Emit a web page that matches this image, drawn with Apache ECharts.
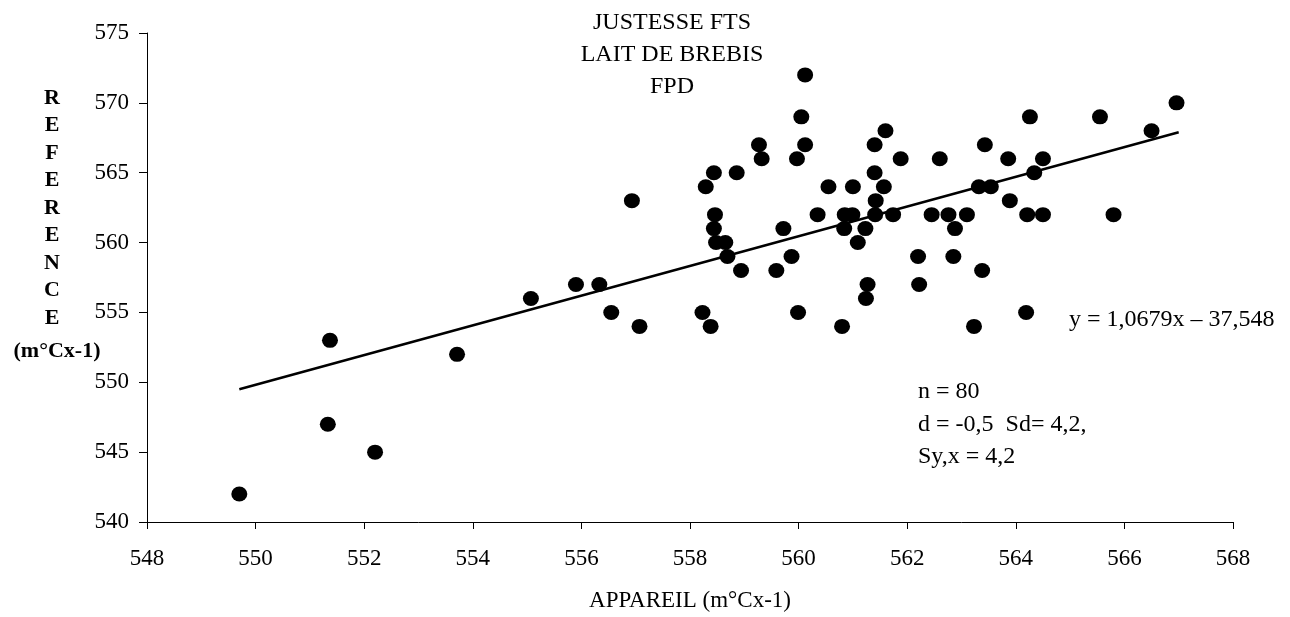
<!DOCTYPE html>
<html>
<head>
<meta charset="utf-8">
<script src="https://cdn.jsdelivr.net/npm/echarts@6/dist/echarts.min.js"></script>
<style>
  html, body { margin: 0; padding: 0; background: #fff; }
  #main { width: 1290px; height: 617px; }
</style>
</head>
<body>
<div id="main"></div>
<script>
// values (x = appareil, y = reference)
const appareil = [
  549.7, 551.33, 551.37, 552.2, 553.71, 555.07, 555.9, 556.33, 556.55, 557.07, 556.93,
  560.12, 560.05, 560.12, 559.27, 559.32, 559.97, 558.44, 558.86, 558.29, 560.55, 561.0,
  561.4, 561.6, 561.4, 561.57, 561.42, 561.41, 558.46, 560.35, 560.85, 560.99, 558.44,
  559.72, 560.84, 561.23, 558.48, 558.65, 561.09, 558.69, 559.87, 558.94, 559.59, 561.27,
  561.24, 558.23, 559.99, 558.38, 560.8,
  561.88, 562.6, 563.43, 563.86, 564.5, 564.26, 565.55, 566.96, 566.5, 563.32, 563.54,
  564.34, 563.89, 561.74, 562.45, 562.76, 563.1, 564.21, 564.5, 565.8, 562.88, 562.2,
  562.85, 563.38, 562.22, 564.19, 563.23
];
const reference = [
  542, 547, 553, 545, 552, 556, 557, 557, 555, 554, 563,
  572, 569, 567, 567, 566, 566, 565, 565, 564, 564, 564,
  567, 568, 565, 564, 563, 562, 562, 562, 562, 562, 561,
  561, 561, 561, 560, 560, 560, 559, 559, 558, 558, 557,
  556, 555, 555, 554, 554,
  566, 566, 567, 566, 566, 569, 569, 570, 568, 564, 564,
  565, 563, 562, 562, 562, 562, 562, 562, 562, 561, 559,
  559, 558, 557, 555, 554
];
// trend line y = 1,0679x - 37,548 drawn over the data range
const trendX = [549.7, 567.0];
const trendY = [549.5, 567.9];

const yNameLetters = ['R', 'E', 'F', 'E', 'R', 'E', 'N', 'C', 'E'];
const titleLines = ['JUSTESSE FTS', 'LAIT DE BREBIS', 'FPD'];
const statLines = ['n = 80', 'd = -0,5  Sd= 4,2,', 'Sy,x = 4,2'];
const equation = 'y = 1,0679x \u2013 37,548';

const serif = '"Liberation Serif", "Times New Roman", serif';
const chart = echarts.init(document.getElementById('main'));

const graphics = [];
titleLines.forEach((t, i) => {
  graphics.push({
    type: 'text', x: 672, y: 23 + i * 32,
    style: { text: t, font: '24px ' + serif, fill: '#000', align: 'center', verticalAlign: 'middle' }
  });
});
yNameLetters.forEach((t, i) => {
  graphics.push({
    type: 'text', x: 52, y: 98 + i * 27.5,
    style: { text: t, font: 'bold 22px ' + serif, fill: '#000', align: 'center', verticalAlign: 'middle' }
  });
});
graphics.push({
  type: 'text', x: 57, y: 351,
  style: { text: '(m\u00b0Cx-1)', font: 'bold 22px ' + serif, fill: '#000', align: 'center', verticalAlign: 'middle' }
});
graphics.push({
  type: 'text', x: 1069, y: 320,
  style: { text: equation, font: '24px ' + serif, fill: '#000', align: 'left', verticalAlign: 'middle' }
});
[392, 425, 457].forEach((yy, i) => {
  graphics.push({
    type: 'text', x: 918, y: yy,
    style: { text: statLines[i], font: '24px ' + serif, fill: '#000', align: 'left', verticalAlign: 'middle' }
  });
});

const axisCommon = {
  axisLine: { show: true, onZero: false, lineStyle: { color: '#000', width: 1 } },
  axisTick: { show: true, inside: false, length: 7, lineStyle: { color: '#000' } },
  splitLine: { show: false },
  axisLabel: { color: '#000', fontFamily: serif, fontSize: 23 }
};

chart.setOption({
  animation: false,
  backgroundColor: '#fff',
  grid: { left: 147, right: 57, top: 33, bottom: 92 },
  xAxis: Object.assign({}, axisCommon, {
    type: 'value', min: 548, max: 568, interval: 2,
    name: 'APPAREIL (m\u00b0Cx-1)', nameLocation: 'middle', nameGap: 67,
    nameTextStyle: { color: '#000', fontFamily: serif, fontSize: 23 },
    axisLabel: Object.assign({}, axisCommon.axisLabel, { margin: 25 })
  }),
  yAxis: Object.assign({}, axisCommon, {
    type: 'value', min: 540, max: 575, interval: 5,
    axisTick: { show: true, inside: false, length: 8, lineStyle: { color: '#000' } },
    axisLabel: Object.assign({}, axisCommon.axisLabel, { margin: 18 })
  }),
  graphic: graphics,
  series: [
    {
      type: 'scatter',
      data: appareil.map((x, i) => [x, reference[i]]),
      symbol: 'circle',
      symbolSize: [16, 15],
      itemStyle: { color: '#000', opacity: 1 }
    },
    {
      type: 'line',
      data: trendX.map((x, i) => [x, trendY[i]]),
      symbol: 'none',
      lineStyle: { color: '#000', width: 2.5 },
      z: 3
    }
  ]
});
</script>
</body>
</html>
